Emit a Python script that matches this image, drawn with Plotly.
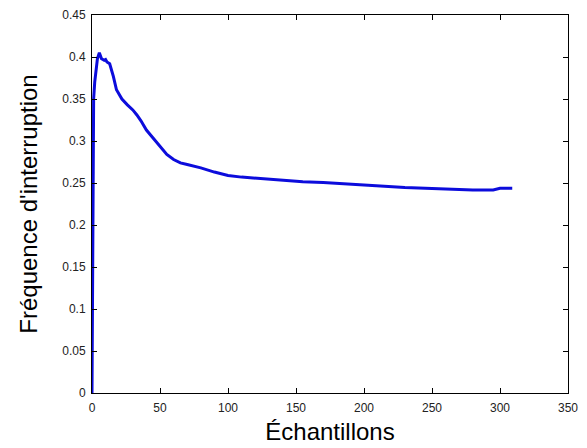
import plotly.graph_objects as go

samples = [0, 0.3, 0.5, 0.8, 1.2, 2, 3, 4, 5.4, 7, 8, 9, 10, 11, 13, 15.7, 18, 20, 22, 26, 30, 33, 36, 40, 45, 50, 55, 60, 65, 70, 80, 90, 100, 110, 125, 140, 155, 170, 185, 200, 215, 230, 250, 272, 280, 295, 300, 309]
frequence = [0, 0.12, 0.13, 0.30, 0.35, 0.37, 0.385, 0.398, 0.405, 0.398, 0.397, 0.396, 0.397, 0.394, 0.392, 0.377, 0.361, 0.355, 0.350, 0.343, 0.337, 0.331, 0.324, 0.313, 0.303, 0.293, 0.284, 0.278, 0.274, 0.272, 0.268, 0.263, 0.259, 0.257, 0.255, 0.253, 0.2515, 0.2505, 0.249, 0.247, 0.2455, 0.2445, 0.2435, 0.242, 0.2417, 0.2417, 0.2437, 0.2437]

x_ticks = [0, 50, 100, 150, 200, 250, 300, 350]
y_ticks = [0, 0.05, 0.1, 0.15, 0.2, 0.25, 0.3, 0.35, 0.4, 0.45]
y_tick_labels = ["0", "0.05", "0.1", "0.15", "0.2", "0.25", "0.3", "0.35", "0.4", "0.45"]

fig = go.Figure()
fig.add_trace(go.Scatter(x=samples, y=frequence, mode="lines",
                         line=dict(color="#0c0cdc", width=3), showlegend=False))

axis_common = dict(showline=True, linecolor="black", linewidth=1, mirror="ticks",
                   ticks="inside", ticklen=5, tickcolor="black", showgrid=False,
                   zeroline=False, automargin=False,
                   tickfont=dict(family="Liberation Sans, Arial", size=12, color="#222"))

fig.update_layout(
    width=587, height=448,
    margin=dict(l=92, r=19, t=15, b=55),
    paper_bgcolor="white", plot_bgcolor="white",
    xaxis=dict(range=[0, 350], tickvals=x_ticks, ticktext=[str(t) for t in x_ticks],
               ticklabelstandoff=4,
               title=dict(text="Échantillons", font=dict(family="Liberation Sans, Arial", size=24, color="black"), standoff=8),
               **axis_common),
    yaxis=dict(range=[0, 0.45], tickvals=y_ticks, ticktext=y_tick_labels,
               ticklabelstandoff=3,
               title=dict(text="Fréquence d'interruption", font=dict(family="Liberation Sans, Arial", size=24, color="black"), standoff=17),
               **axis_common),
)

fig.write_html("out.html", config={"displayModeBar": False},
               post_script="document.body.style.margin='0';")
